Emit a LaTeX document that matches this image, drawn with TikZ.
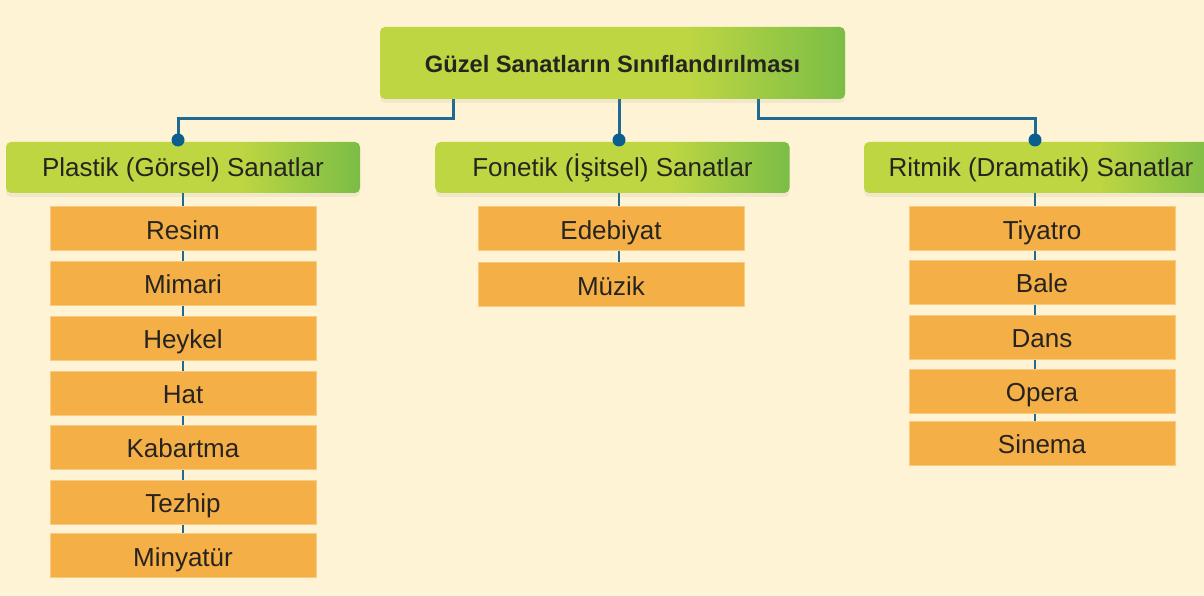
\documentclass[tikz,border=0pt]{standalone}
\usepackage{fontspec}
\setmainfont{Liberation Sans}
\usetikzlibrary{shadows}
\definecolor{bgc}{HTML}{FEF3D4}
\definecolor{gl}{HTML}{BED642}
\definecolor{gd}{HTML}{7BBD46}
\definecolor{org}{HTML}{F4B047}
\definecolor{orgb}{HTML}{F9CA80}
\definecolor{ln}{HTML}{1E6A93}
\definecolor{dotc}{HTML}{0C5E8C}
\definecolor{txt}{HTML}{272420}
\pgfdeclarehorizontalshading{gshade}{100bp}{color(0bp)=(gl); color(25bp)=(gl); color(58bp)=(gl); color(75bp)=(gd); color(100bp)=(gd)}
\pgfdeclarelayer{back}
\pgfdeclarelayer{bg}
\pgfsetlayers{back,bg,main}
\tikzset{
  greenbox/.style={shade, shading=gshade, rounded corners=5pt, inner sep=0pt,
    text=txt, drop shadow={opacity=0.10, shadow xshift=0pt, shadow yshift=-4pt},
    text height=19pt, text depth=0pt},
  titlebox/.style={greenbox, minimum width=465pt, minimum height=72pt,
    font=\fontsize{23.7}{28}\selectfont\bfseries},
  catbox/.style={greenbox, minimum width=354pt, minimum height=51pt,
    font=\fontsize{26}{30}\selectfont},
  itembox/.style={fill=org, draw=orgb, line width=1pt, minimum width=266pt,
    minimum height=44pt, inner sep=0pt, text=txt,
    font=\fontsize{26}{30}\selectfont, text height=21pt, text depth=0pt},
  conn/.style={draw=ln, line width=3pt},
  thinconn/.style={draw=ln, line width=2.5pt},
  dotmark/.style={fill=dotc}
}
\begin{document}
\begin{tikzpicture}[x=1pt,y=-1pt]
\useasboundingbox (0,0) rectangle (1204,596);
\clip (0,0) rectangle (1204,596);
\begin{pgfonlayer}{back}
\fill[bgc] (0,0) rectangle (1204,596);
\end{pgfonlayer}

% connectors from title
\coordinate (d1) at (178,140);
\coordinate (d2) at (619,140);
\coordinate (d3) at (1035,140);

\node[titlebox] (t) at (612.5,63) {Güzel Sanatların Sınıflandırılması};

\begin{pgfonlayer}{bg}
\draw[conn] ([xshift=-159.5pt]t.south) -- ++(0,19) -| (d1);
\draw[conn] ([xshift=6.5pt]t.south) -- (d2);
\draw[conn] ([xshift=145.5pt]t.south) -- ++(0,19) -| (d3);
\end{pgfonlayer}

\node[catbox] (c1) at (183,167.5) {Plastik (Görsel) Sanatlar};
\node[catbox] (c2) at (612.5,167.5) {Fonetik (İşitsel) Sanatlar};
\node[catbox] (c3) at (1041,167.5) {Ritmik (Dramatik) Sanatlar};

\fill[dotmark] (d1) circle (6.5);
\fill[dotmark] (d2) circle (6.5);
\fill[dotmark] (d3) circle (6.5);

% Plastik items
\node[itembox] (p1) at (183,228.5) {Resim};
\node[itembox] (p2) at (183,283) {Mimari};
\node[itembox] (p3) at (183,338) {Heykel};
\node[itembox] (p4) at (183,393) {Hat};
\node[itembox] (p5) at (183,447) {Kabartma};
\node[itembox] (p6) at (183,502) {Tezhip};
\node[itembox] (p7) at (183,555.5) {Minyatür};

% Fonetik items
\node[itembox] (f1) at (611,228.5) {Edebiyat};
\node[itembox] (f2) at (611,284.5) {Müzik};

% Ritmik items
\node[itembox] (r1) at (1042,228.5) {Tiyatro};
\node[itembox] (r2) at (1042,282) {Bale};
\node[itembox] (r3) at (1042,337) {Dans};
\node[itembox] (r4) at (1042,391) {Opera};
\node[itembox] (r5) at (1042,443) {Sinema};

\begin{pgfonlayer}{bg}
\draw[thinconn] (c1.south) -- (p7.north);
\draw[thinconn] (d2 |- c2.south) -- (d2 |- f2.north);
\draw[thinconn] (d3 |- c3.south) -- (d3 |- r5.north);
\end{pgfonlayer}
\end{tikzpicture}
\end{document}
